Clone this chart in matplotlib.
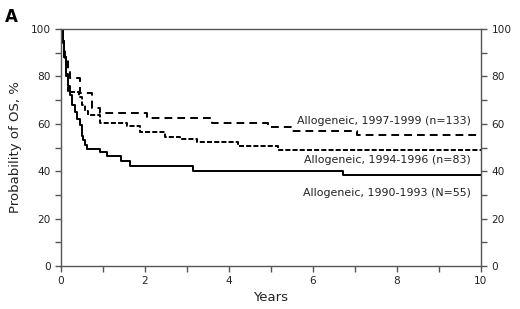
import matplotlib
matplotlib.use('Agg')
from matplotlib import pyplot as plt
from matplotlib.ticker import MultipleLocator

# Kaplan-Meier steps (years, % surviving)
t_9093 = [0, 0.04, 0.08, 0.13, 0.17, 0.21, 0.27, 0.33, 0.39, 0.45, 0.49, 0.53,
          0.56, 0.61, 0.93, 1.09, 1.44, 1.64, 3.15, 6.72, 10]
s_9093 = [100, 95, 88, 81, 76, 72, 68, 65, 62, 59.5, 55, 53,
          51, 49.4, 48.2, 46.5, 44.5, 42.3, 40.2, 38.3, 38.3]

t_9496 = [0, 0.04, 0.08, 0.12, 0.17, 0.43, 0.5, 0.57, 0.65, 0.93, 1.56, 1.88,
          2.48, 2.83, 3.23, 4.22, 5.17, 10]
s_9496 = [100, 94, 88, 80, 73.5, 71.5, 68, 65.5, 63.7, 60.2, 59.1, 56.7,
          54.6, 53.4, 52.5, 50.6, 48.9, 48.9]

t_9799 = [0, 0.04, 0.07, 0.1, 0.17, 0.21, 0.45, 0.73, 0.93, 2.04, 3.6, 4.94,
          5.49, 7.04, 10]
s_9799 = [100, 95, 91, 87.6, 82.7, 79.2, 72.9, 66.5, 64.4, 62.3, 60.2, 58.5,
          57.1, 55.2, 55.2]

labels = ['Allogeneic, 1997-1999 (n=133)',
          'Allogeneic, 1994-1996 (n=83)',
          'Allogeneic, 1990-1993 (N=55)']
label_y = [61, 44.7, 31]

fig = plt.figure(figsize=(5.2, 3.09), dpi=100)
ax = fig.add_axes([0.1173, 0.139, 0.8077, 0.767])

ax.step(t_9093, s_9093, where='post', color='black', linewidth=1.4)
ax.step(t_9496, s_9496, where='post', color='black', linewidth=1.4,
        dashes=(2.6, 1.1))
ax.step(t_9799, s_9799, where='post', color='black', linewidth=1.4,
        dashes=(4, 2.6))

for text, y in zip(labels, label_y):
    ax.text(9.75, y, text, ha='right', va='center', fontsize=7.9, color='#222222')

ax.set_xlim(0, 10)
ax.set_ylim(0, 100)
ax.xaxis.set_major_locator(MultipleLocator(2))
ax.xaxis.set_minor_locator(MultipleLocator(1))
ax.yaxis.set_major_locator(MultipleLocator(20))
ax.yaxis.set_minor_locator(MultipleLocator(10))

spine_col = '#555555'
for side in ['left', 'right', 'top', 'bottom']:
    ax.spines[side].set_color(spine_col)
    ax.spines[side].set_linewidth(1.0)

ax.tick_params(which='both', direction='out', color=spine_col, width=1.0,
               labelsize=7.6, labelcolor='#222222',
               right=True, labelright=True, top=False)
ax.tick_params(which='major', length=4)
ax.tick_params(which='minor', length=4)

ax.set_xlabel('Years', fontsize=9.5, color='#222222', labelpad=3)
ax.set_ylabel('Probability of OS, %', fontsize=9.5, color='#222222', labelpad=6)

fig.text(0.01, 0.975, 'A', fontsize=12, fontweight='bold', va='top', ha='left')

plt.savefig('out.png', dpi=100)
